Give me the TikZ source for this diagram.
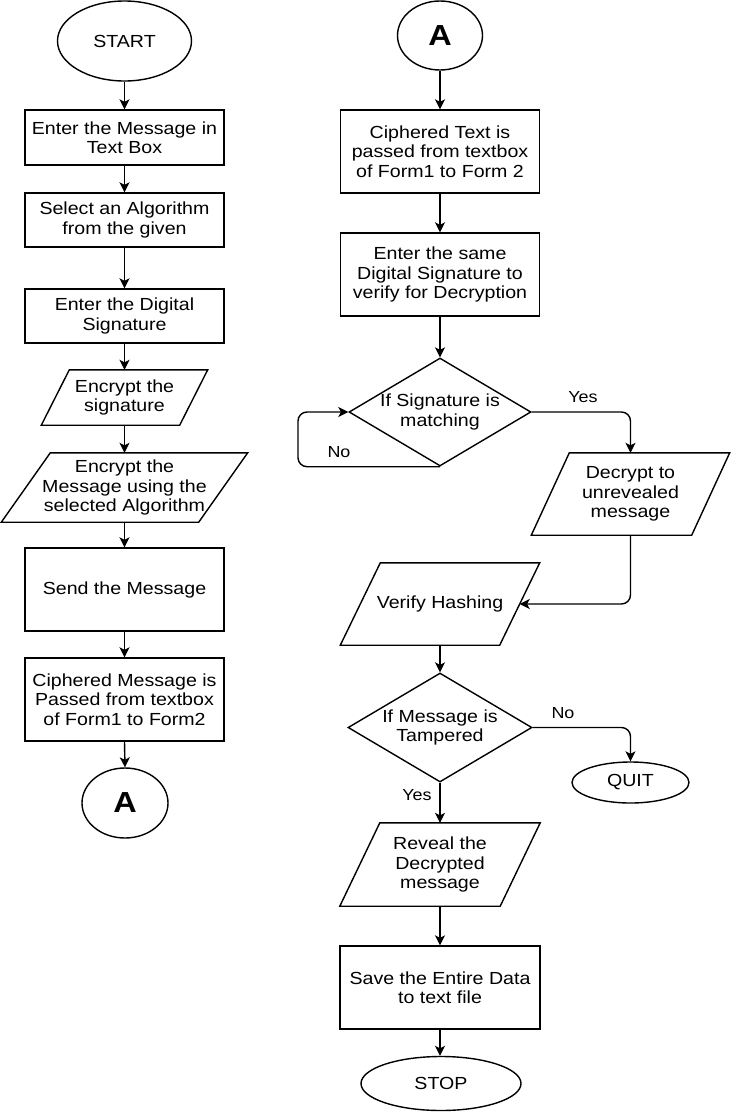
\documentclass[tikz,border=0pt]{standalone}
\usepackage{fontspec}
\setmainfont{Liberation Sans}[FakeStretch=1.12]
\usetikzlibrary{shapes.geometric,arrows.meta}
\newcommand{\parashape}[2]{\draw[line width=1.4pt, line join=miter] ([xshift=#2]#1.north west) -- (#1.north east) -- ([xshift=-#2]#1.south east) -- (#1.south west) -- cycle;}
\begin{document}
\begin{tikzpicture}[x=1pt,y=-1pt,
  every node/.style={font=\fontsize{17.5}{19.5}\selectfont, align=center},
  box/.style={draw, rectangle, line width=1.4pt, inner sep=0pt},
  term/.style={draw, ellipse, line width=1.4pt, inner sep=0pt},
  iobox/.style={rectangle, inner sep=0pt},
  dec/.style={draw, diamond, line width=1.4pt, inner sep=0pt},
  conn/.style={draw, circle, ellipse, line width=1.4pt, inner sep=0pt, font=\fontsize{29}{30}\selectfont\bfseries},
  arr/.style={-{Stealth[length=10pt,width=10pt,inset=2.5pt]}, line width=1.4pt},
  loopedge/.style={arr, rounded corners=9pt},
  lbl/.style={font=\fontsize{16}{19}\selectfont}
]
\useasboundingbox (0,0) rectangle (731,1112);
% left column
\node[term, minimum width=134pt, minimum height=80pt] (start) at (124.5,41) {START};
\node[box, minimum width=199pt, minimum height=55pt] (b1) at (124.5,137.5) {Enter the Message in\\Text Box};
\node[box, minimum width=199pt, minimum height=54pt] (b2) at (124.5,220) {Select an Algorithm\\from the given};
\node[box, minimum width=199pt, minimum height=54pt] (b3) at (124.5,316) {Enter the Digital\\Signature};
\node[iobox, minimum width=166pt, minimum height=55pt] (p1) at (124.5,397.5) {Encrypt the\\signature};
\parashape{p1}{28pt}
\node[iobox, minimum width=246pt, minimum height=69pt] (p2) at (124.5,487.5) {Encrypt the\\Message using the\\selected Algorithm};
\parashape{p2}{49pt}
\node[box, minimum width=199pt, minimum height=83pt] (b4) at (124.5,589.5) {Send the Message};
\node[box, minimum width=199pt, minimum height=83pt] (b5) at (124.5,699.5) {Ciphered Message is\\Passed from textbox\\of Form1 to Form2};
\node[conn, minimum width=86pt, minimum height=70pt] (a1) at (125,803) {A};
% right column
\node[conn, minimum width=85pt, minimum height=69pt] (a2) at (440,35.5) {A};
\node[box, minimum width=199pt, minimum height=83pt] (r1) at (440,151.5) {Ciphered Text is\\passed from textbox\\of Form1 to Form 2};
\node[box, minimum width=199pt, minimum height=83pt] (r2) at (440,274.5) {Enter the same\\Digital Signature to\\verify for Decryption};
\node[dec, minimum width=182pt, minimum height=108pt] (d1) at (440,412) {};
\node (d1t) at (d1) {If Signature is\\matching};
\node[iobox, minimum width=198pt, minimum height=82pt] (p3) at (630.5,494) {Decrypt to\\unrevealed\\message};
\parashape{p3}{38pt}
\node[iobox, minimum width=199pt, minimum height=82pt] (p4) at (440,604) {Verify Hashing};
\parashape{p4}{40pt}
\node[dec, minimum width=184pt, minimum height=109pt] (d2) at (440,727.5) {};
\node (d2t) at (d2) {If Message is\\Tampered};
\node[term, minimum width=117pt, minimum height=41pt] (quit) at (630.5,782.5) {QUIT};
\node[iobox, minimum width=200pt, minimum height=83pt] (p5) at (440,864.5) {Reveal the\\Decrypted\\message};
\parashape{p5}{40pt}
\node[box, minimum width=200pt, minimum height=83pt] (r3) at (440,987.5) {Save the Entire Data\\to text file};
\node[term, minimum width=160pt, minimum height=54pt] (stop) at (441,1083.5) {STOP};
% labels
\node[lbl] (lyes1) at (583,397) {Yes};
\node[lbl] (lno1) at (339,452) {No};
\node[lbl] (lno2) at (563,713) {No};
\node[lbl] (lyes2) at (417,795) {Yes};
% connectors left
\draw[arr] (start.south) -- (b1.north);
\draw[arr] (b1.south) -- (b2.north);
\draw[arr] (b2.south) -- (b3.north);
\draw[arr] (b3.south) -- (p1.north);
\draw[arr] (p1.south) -- (p2.north);
\draw[arr] (p2.south) -- (b4.north);
\draw[arr] (b4.south) -- (b5.north);
\draw[arr] (b5.south) -- (a1.north);
% connectors right
\draw[arr] (a2.south) -- (r1.north);
\draw[arr] (r1.south) -- (r2.north);
\draw[arr] (r2.south) -- (d1.north);
\draw[loopedge] (d1.south) -- ([xshift=-142pt]d1.south) |- (d1.west);
\draw[loopedge] (d1.east) -| (p3.north);
\draw[loopedge] (p3.south) |- ([xshift=-20pt]p4.east);
\draw[arr] (p4.south) -- (d2.north);
\draw[loopedge] (d2.east) -| (quit.north);
\draw[arr] (d2.south) -- (p5.north);
\draw[arr] (p5.south) -- (r3.north);
\draw[arr] (r3.south) -- (r3.south |- stop.north);
\end{tikzpicture}
\end{document}
